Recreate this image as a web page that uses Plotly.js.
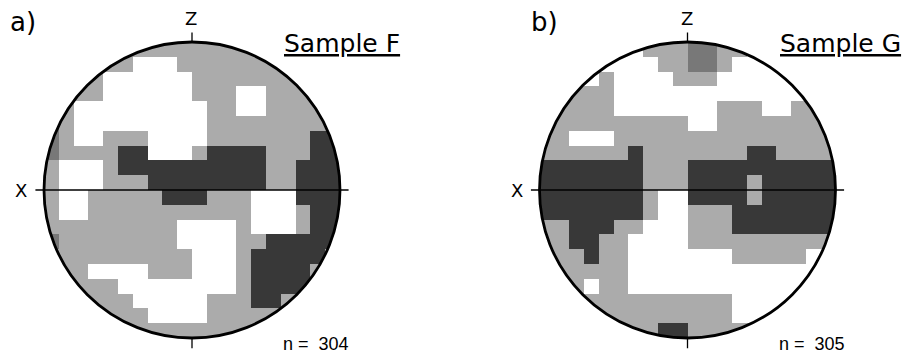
<!DOCTYPE html>
<html><head><meta charset="utf-8">
<script src="https://cdn.plot.ly/plotly-3.0.1.min.js"></script>
<style>html,body{margin:0;padding:0;background:#fff;} #chart{width:904px;height:355px;}</style>
</head><body><div id="chart"></div>
<script>
// Contour level per grid cell (0 = white, 1 = light stipple, 2 = medium, 3 = dark), rows from top (Z) to bottom
const gridF = [
  "11111111111111111111",
  "11111100011111111111",
  "11110000001111111111",
  "11110000001110011111",
  "21000000000110011111",
  "21000000000111111111",
  "21001110000111111133",
  "21111330001333311133",
  "10001333333333311333",
  "10001113333333311333",
  "10011111333111000333",
  "10011111111111000133",
  "11111111100001000133",
  "21111111100001133333",
  "11111111110001333331",
  "11100001110001333311",
  "11111000000001333311",
  "11111100000111331111",
  "11111110000111111111",
  "11111111111111111111"
];
const gridG = [
  "00000001112211000000",
  "00000000112210000000",
  "00001000011100000000",
  "00111000000000000000",
  "11111000000011100111",
  "11111111110011111111",
  "11000111111111111111",
  "11111131111111331111",
  "33333331113333333333",
  "33333331113333133333",
  "33333331003333133333",
  "33333331001113333333",
  "11333110001113333333",
  "11331100001111111111",
  "11131100000001111100",
  "11111100000000000000",
  "11101100000000000000",
  "11011111111110000000",
  "11111111111110000000",
  "11111111331111111111"
];
const panelLabels = ["a)", "b)"];
const sampleNames = ["Sample F", "Sample G"];
const sampleCounts = [304, 305];
const poleLabels = ["Z", "X"];
const levelColors = ["#ffffff", "#ababab", "#787878", "#383838"];

const W = 904, H = 355, R = 148, PAD = 1.1, CY = 190;
const panelCX = [192, 687.5];
const N = gridF.length;
const centers = Array.from({length: N}, (_, i) => -0.95 + 0.1 * i);
const rowY = centers.slice().reverse();
const toZ = g => g.map(r => r.split('').map(Number));

const cs = [
  [0, levelColors[0]], [1/6, levelColors[0]],
  [1/6, levelColors[1]], [0.5, levelColors[1]],
  [0.5, levelColors[2]], [5/6, levelColors[2]],
  [5/6, levelColors[3]], [1, levelColors[3]]
];

const traces = [gridF, gridG].map((g, k) => ({
  type: 'heatmap', z: toZ(g), x: centers, y: rowY,
  zmin: 0, zmax: 3, colorscale: cs, showscale: false, hoverinfo: 'skip',
  xaxis: k ? 'x2' : 'x', yaxis: k ? 'y2' : 'y'
}));

// circle polygon for mask
let circ = [];
for (let i = 0; i <= 240; i++) {
  const t = 2 * Math.PI * i / 240;
  circ.push((i ? 'L' : 'M') + Math.cos(t).toFixed(4) + ',' + Math.sin(t).toFixed(4));
}
const maskPath = 'M-1.2,-1.2 L1.2,-1.2 L1.2,1.2 L-1.2,1.2 Z ' + circ.join(' ') + ' Z';

const shapes = [];
['', '2'].forEach(s => {
  const xr = 'x' + s, yr = 'y' + s;
  shapes.push({type: 'path', xref: xr, yref: yr, path: maskPath, fillcolor: '#ffffff', fillrule: 'evenodd', line: {width: 0}, layer: 'above'});
  shapes.push({type: 'circle', xref: xr, yref: yr, x0: -1, x1: 1, y0: -1, y1: 1, line: {color: '#000', width: 2.8}, layer: 'above'});
  shapes.push({type: 'line', xref: xr, yref: yr, x0: -1.058, x1: 1.058, y0: 0, y1: 0, line: {color: '#000', width: 1.3}, layer: 'above'});
  shapes.push({type: 'line', xref: xr, yref: yr, x0: 0, x1: 0, y0: 1, y1: 1.065, line: {color: '#000', width: 1.3}, layer: 'above'});
  shapes.push({type: 'line', xref: xr, yref: yr, x0: 0, x1: 0, y0: -1, y1: -1.07, line: {color: '#000', width: 1.3}, layer: 'above'});
});

const px = x => x / W, py = y => 1 - y / H;
const ann = (x, y, text, size, family, xanchor) => ({
  xref: 'paper', yref: 'paper', x: px(x), y: py(y), text: text, showarrow: false,
  xanchor: xanchor || 'center', yanchor: 'middle',
  font: {size: size, family: family, color: '#000'}
});
const annotations = [];
panelCX.forEach((cx, k) => {
  const off = k ? 495.5 : 0;
  annotations.push(ann(8 + off + (k ? 25 : 0), 22, panelLabels[k], 26, 'DejaVu Sans', 'left'));
  annotations.push(ann(cx - 1, 18, poleLabels[0], 18, 'DejaVu Sans'));
  annotations.push(ann(cx - 171, 191, poleLabels[1], 18, 'DejaVu Sans'));
  annotations.push(ann(cx + 90, 43, '<u>' + sampleNames[k] + '</u>', 25, 'DejaVu Sans', 'left'));
  annotations.push(ann(cx + 89, 344, 'n =  ' + sampleCounts[k], 18, 'Liberation Sans', 'left'));
});

const axBase = {range: [-PAD, PAD], visible: false, fixedrange: true};
const yDom = [py(CY + R * PAD), py(CY - R * PAD)];
const layout = {
  width: W, height: H, margin: {l: 0, r: 0, t: 0, b: 0},
  paper_bgcolor: '#fff', plot_bgcolor: '#fff', showlegend: false,
  xaxis: Object.assign({}, axBase, {domain: [px(panelCX[0] - R * PAD), px(panelCX[0] + R * PAD)], anchor: 'y'}),
  yaxis: Object.assign({}, axBase, {domain: yDom, anchor: 'x'}),
  xaxis2: Object.assign({}, axBase, {domain: [px(panelCX[1] - R * PAD), px(panelCX[1] + R * PAD)], anchor: 'y2'}),
  yaxis2: Object.assign({}, axBase, {domain: yDom, anchor: 'x2'}),
  shapes: shapes, annotations: annotations
};
Plotly.newPlot('chart', traces, layout, {staticPlot: true, displayModeBar: false});
</script></body></html>
